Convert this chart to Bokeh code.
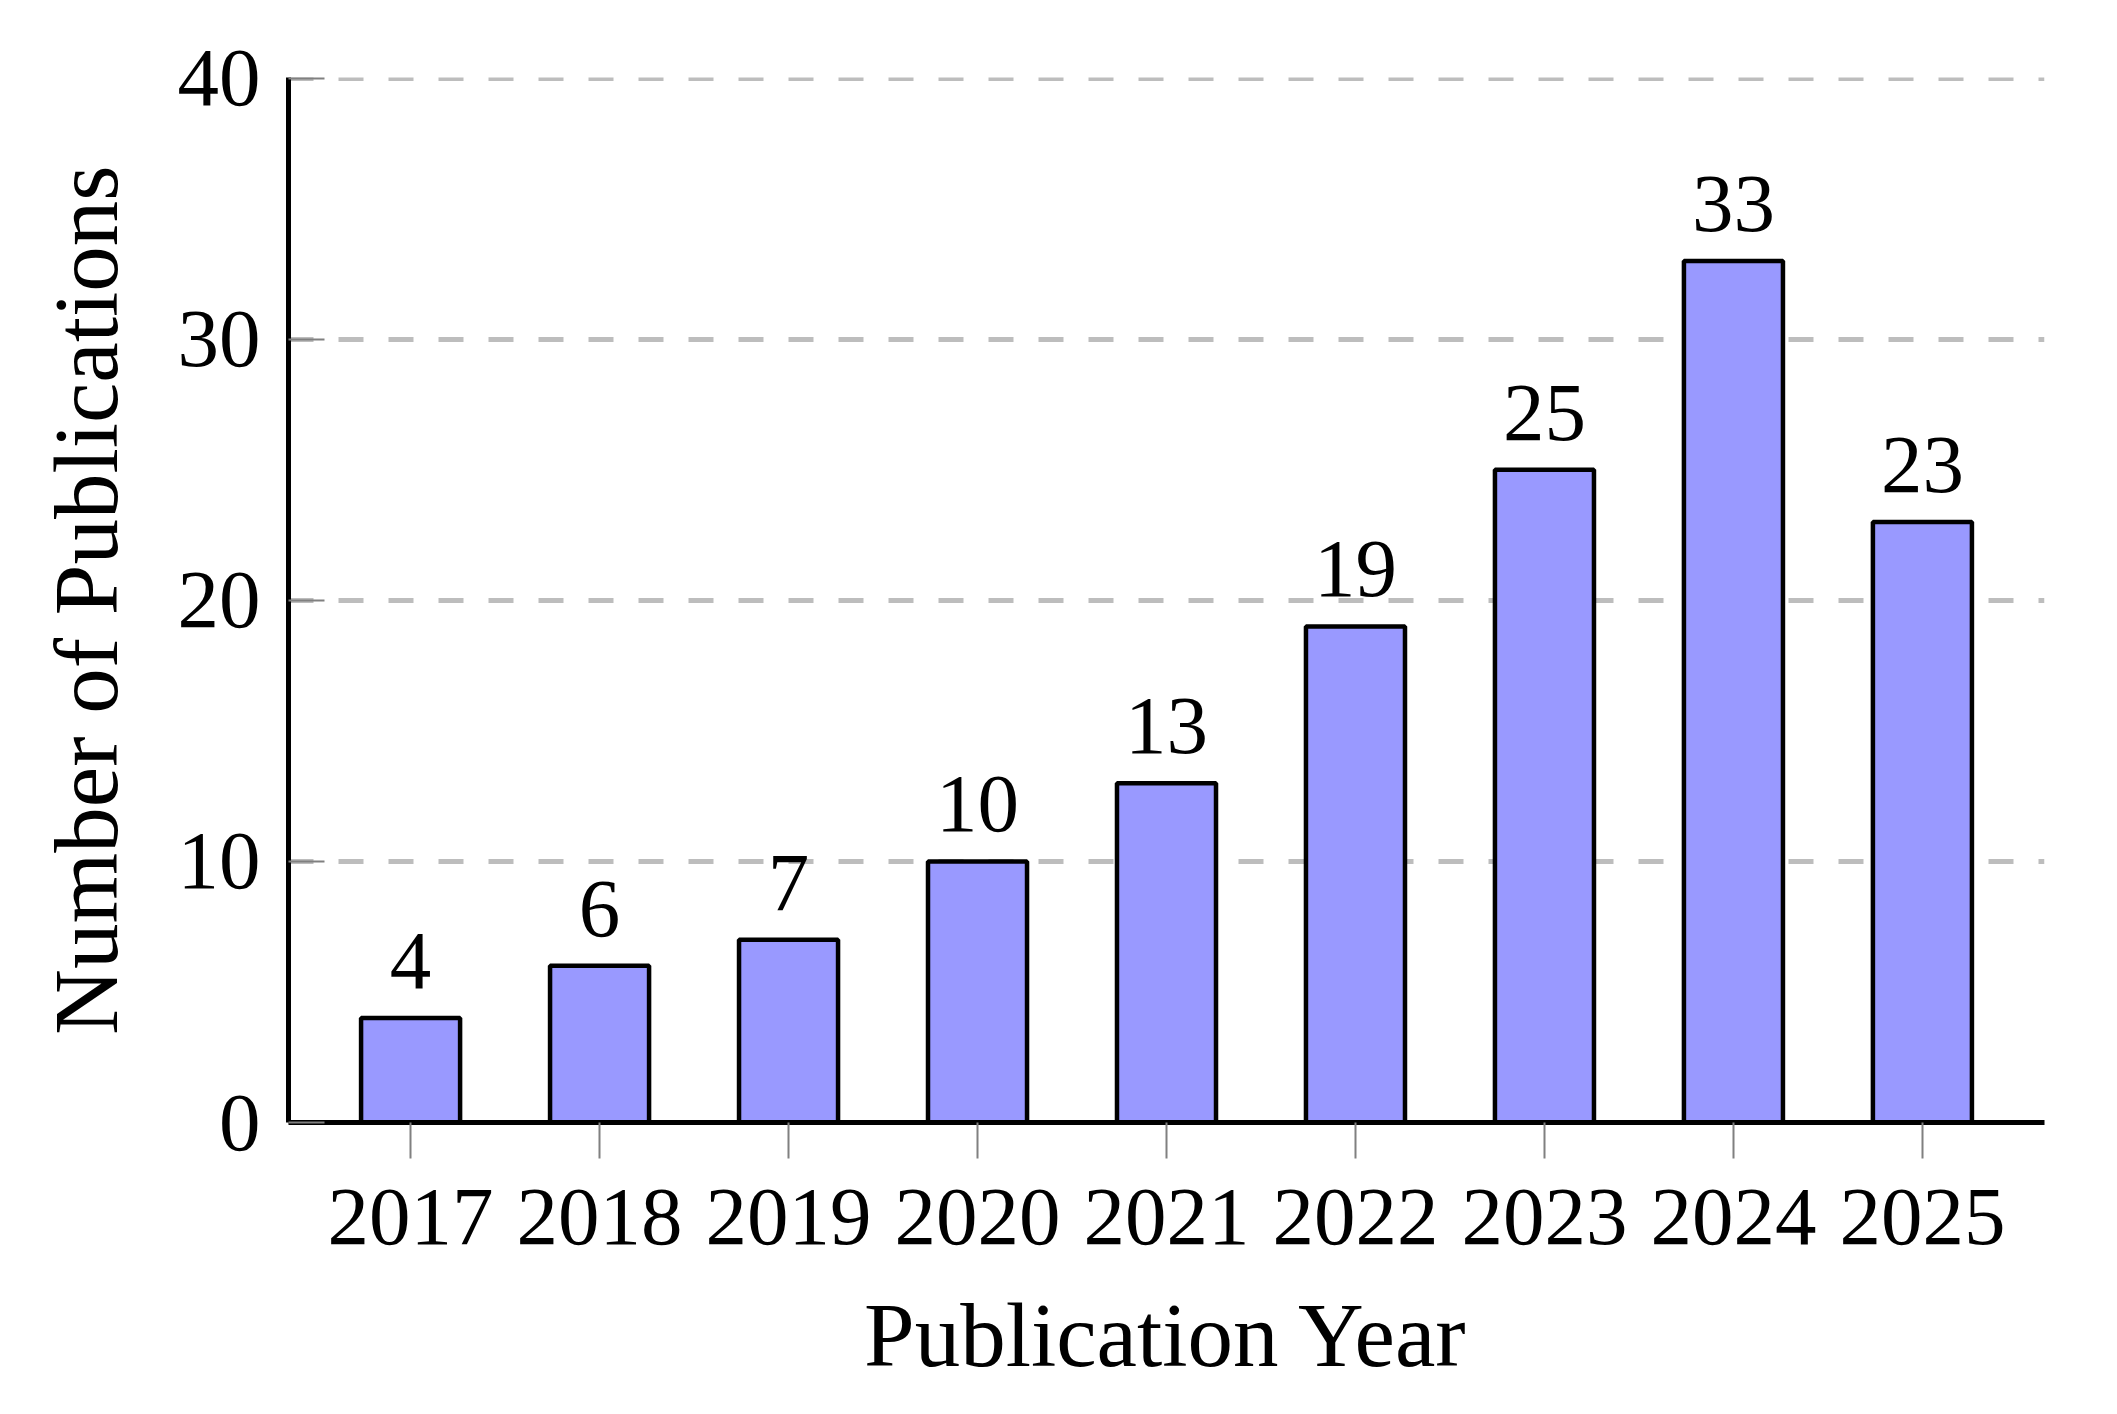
from bokeh.plotting import figure
from bokeh.models import ColumnDataSource, FixedTicker, Range1d, LabelSet
from bokeh.embed import file_html
from bokeh.resources import INLINE

years = [2017, 2018, 2019, 2020, 2021, 2022, 2023, 2024, 2025]
counts = [4, 6, 7, 10, 13, 19, 25, 33, 23]
y_ticks = [0, 10, 20, 30, 40]
x_label = "Publication Year"
y_label = "Number of Publications"

FONT = "Liberation Serif"

src = ColumnDataSource(dict(x=years, top=counts, lab=[str(c) for c in counts]))

p = figure(width=2109, height=1406, output_backend="svg", toolbar_location=None,
           x_range=Range1d(2016.354, 2025.646), y_range=Range1d(0, 40.03),
           min_border_left=288, min_border_right=65, min_border_top=77, min_border_bottom=284)
p.outline_line_color = None
p.background_fill_color = "white"

p.vbar(x="x", top="top", width=0.524, bottom=0, source=src,
       fill_color="#9999ff", line_color="black", line_width=4.5)

labels = LabelSet(x="x", y="top", text="lab", source=src, y_offset=30,
                  text_align="center", text_baseline="alphabetic",
                  text_font="Liberation Serif", text_font_size="83px", text_color="black")
p.add_layout(labels)

# grid
p.xgrid.grid_line_color = None
p.ygrid.ticker = FixedTicker(ticks=y_ticks)
p.ygrid.grid_line_color = "#bdbdbd"
p.ygrid.grid_line_width = 5
p.ygrid.grid_line_dash = "25 25"

# axes
xa = p.xaxis[0]
ya = p.yaxis[0]
xa.ticker = FixedTicker(ticks=years)
xa.major_label_overrides = {y: str(y) for y in years}
ya.ticker = FixedTicker(ticks=y_ticks)
for ax in (xa, ya):
    ax.axis_line_color = "black"
    ax.axis_line_width = 5
    ax.major_tick_line_color = "#808080"
    ax.major_tick_line_width = 2
    ax.minor_tick_line_color = None
    ax.major_label_text_font = FONT
    ax.major_label_text_font_size = "83px"
    ax.major_label_text_color = "black"
    ax.axis_label_text_font = FONT
    ax.axis_label_text_font_size = "91px"
    ax.axis_label_text_font_style = "normal"
    ax.axis_label_text_color = "black"

xa.major_tick_in = 0
xa.major_tick_out = 36
xa.major_label_standoff = 31
xa.axis_label = x_label
xa.axis_label_standoff = 38

ya.major_tick_in = 36
ya.major_tick_out = 0
ya.major_label_standoff = 28
ya.axis_label = y_label
ya.axis_label_standoff = 38

open("out.html", "w").write(file_html(p, INLINE))
